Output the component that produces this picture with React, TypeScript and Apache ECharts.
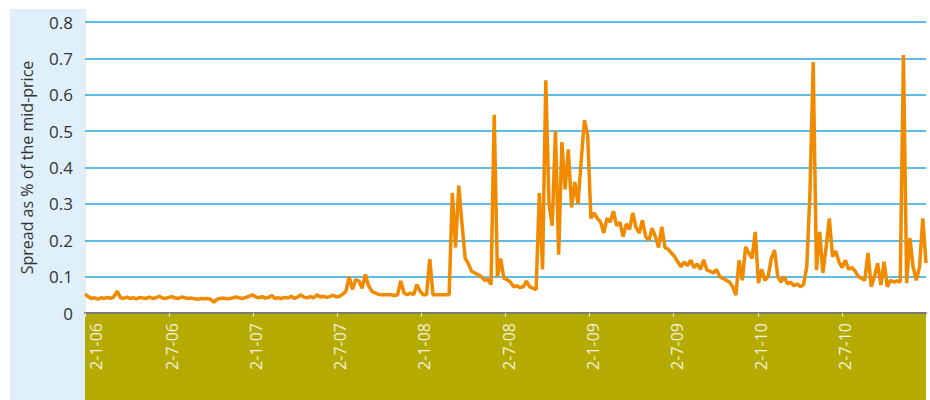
import React, { useEffect, useRef } from "react";
import * as echarts from "echarts";

// Half-year tick labels (date axis, first tick = 2 Jan 2006)
const tickLabels = ["2-1-06", "2-7-06", "2-1-07", "2-7-07", "2-1-08", "2-7-08", "2-1-09", "2-7-09", "2-1-10", "2-7-10"];
const yTicks = [0, 0.1, 0.2, 0.3, 0.4, 0.5, 0.6, 0.7, 0.8];

// Weekly spread (% of mid-price), starting 2 Jan 2006
const spread2006 = [
  0.052, 0.045, 0.040, 0.042, 0.038, 0.042, 0.040, 0.043, 0.040, 0.045,
  0.060, 0.042, 0.040, 0.044, 0.040, 0.042, 0.039, 0.043, 0.041, 0.040,
  0.044, 0.040, 0.042, 0.046, 0.041, 0.040, 0.043, 0.045, 0.041, 0.040,
  0.044, 0.042, 0.040, 0.041, 0.039, 0.038, 0.040, 0.039, 0.040, 0.038,
  0.030, 0.038, 0.040, 0.041, 0.039, 0.040, 0.042, 0.044, 0.041, 0.040,
  0.043, 0.046,
];
const spread2007 = [
  0.050, 0.044, 0.042, 0.045, 0.041, 0.043, 0.048, 0.040, 0.042, 0.040,
  0.043, 0.041, 0.046, 0.040, 0.044, 0.050, 0.043, 0.042, 0.045, 0.042,
  0.050, 0.044, 0.046, 0.043, 0.045, 0.049, 0.044, 0.046, 0.052, 0.060,
  0.100, 0.065, 0.092, 0.088, 0.068, 0.106, 0.075, 0.060, 0.055, 0.052,
  0.050, 0.050, 0.050, 0.050, 0.048, 0.050, 0.088, 0.055, 0.050, 0.055,
  0.050, 0.078,
];
const spread2008 = [
  0.060, 0.050, 0.050, 0.148, 0.050, 0.050, 0.050, 0.050, 0.050, 0.050,
  0.330, 0.180, 0.350, 0.245, 0.150, 0.135, 0.115, 0.110, 0.105, 0.100,
  0.090, 0.092, 0.078, 0.545, 0.100, 0.150, 0.095, 0.092, 0.085, 0.072,
  0.075, 0.070, 0.072, 0.088, 0.072, 0.068, 0.064, 0.330, 0.120, 0.640,
  0.300, 0.240, 0.500, 0.160, 0.470, 0.340, 0.450, 0.290, 0.360, 0.300,
  0.420, 0.530,
];
const spread2009 = [
  0.490, 0.260, 0.275, 0.260, 0.250, 0.220, 0.260, 0.250, 0.280, 0.240,
  0.250, 0.210, 0.245, 0.230, 0.275, 0.235, 0.220, 0.255, 0.210, 0.200,
  0.233, 0.210, 0.180, 0.237, 0.180, 0.175, 0.165, 0.155, 0.140, 0.127,
  0.140, 0.130, 0.145, 0.125, 0.135, 0.120, 0.146, 0.118, 0.115, 0.110,
  0.120, 0.100, 0.095, 0.090, 0.085, 0.072, 0.049, 0.145, 0.090, 0.182,
  0.165, 0.150,
];
const spread2010 = [
  0.223, 0.082, 0.120, 0.090, 0.100, 0.150, 0.173, 0.100, 0.085, 0.100,
  0.080, 0.085, 0.075, 0.080, 0.072, 0.078, 0.127, 0.333, 0.690, 0.118,
  0.223, 0.110, 0.180, 0.260, 0.155, 0.170, 0.140, 0.125, 0.145, 0.120,
  0.125, 0.115, 0.100, 0.095, 0.090, 0.165, 0.072, 0.100, 0.137, 0.077,
  0.141, 0.072, 0.090, 0.085, 0.088, 0.085, 0.709, 0.082, 0.206, 0.127,
  0.090, 0.127, 0.260, 0.137,
];

const weekly = [...spread2006, ...spread2007, ...spread2008, ...spread2009, ...spread2010];
const DAYS_PER_WEEK = 7;
const HALF_YEAR = 182.7;

export default function App() {
  const ref = useRef<HTMLDivElement>(null);
  useEffect(() => {
    if (!ref.current) return;
    const chart = echarts.init(ref.current, undefined, { renderer: "svg" });
    const data = weekly.map((v, i) => [i * DAYS_PER_WEEK, v]);
    chart.setOption({
      animation: false,
      backgroundColor: "#ffffff",
      graphic: [
        { type: "rect", z: -10, silent: true, shape: { x: 10, y: 9, width: 76, height: 391 }, style: { fill: "#dff0fb" } },
        { type: "rect", z: -10, silent: true, shape: { x: 85, y: 313, width: 841, height: 87 }, style: { fill: "#b5aa00" } },
      ],
      grid: { left: 85, right: 4, top: 22, bottom: 87 },
      xAxis: {
        type: "value",
        min: 0,
        max: HALF_YEAR * 10,
        interval: HALF_YEAR,
        splitLine: { show: false },
        axisLine: { show: true, onZero: false, lineStyle: { color: "#7a7a7a", width: 2 } },
        axisTick: { show: true, length: 4, lineStyle: { color: "#f2efd6", width: 1 } },
        axisLabel: {
          rotate: 90,
          margin: 10,
          color: "#f4f1dc",
          fontSize: 16,
          fontFamily: "Open Sans",
          showMaxLabel: false,
          formatter: (v: number) => {
            const i = Math.round(v / HALF_YEAR);
            const s = tickLabels[i] ?? "";
            return i === 0 ? `{first|${s}}` : `{rest|${s}}`;
          },
          rich: {
            first: { color: "#f4f1dc", fontSize: 16, fontFamily: "Open Sans", padding: [22, 0, 0, 0] },
            rest: { color: "#f4f1dc", fontSize: 16, fontFamily: "Open Sans", padding: [6, 0, 0, 0] },
          },
        },
      },
      yAxis: {
        type: "value",
        min: 0,
        max: 0.8,
        interval: 0.1,
        name: "Spread as % of the mid-price",
        nameLocation: "middle",
        nameGap: 50,
        nameTextStyle: { fontSize: 16, color: "#333333", fontFamily: "Open Sans" },
        axisLine: { show: false },
        axisTick: { show: false },
        axisLabel: {
          margin: 12,
          fontSize: 17,
          color: "#333333",
          fontFamily: "Open Sans",
          formatter: (v: number) => {
            const t = yTicks.find((y) => Math.abs(y - v) < 1e-6);
            return t === 0 ? "0" : (t ?? v).toFixed(1);
          },
        },
        splitLine: { show: true, lineStyle: { color: "#2aa6e0", width: 1.5 } },
      },
      series: [
        {
          type: "line",
          data,
          showSymbol: false,
          lineStyle: { color: "#f28a00", width: 3.5 },
          itemStyle: { color: "#f28a00" },
        },
      ],
    });
    return () => chart.dispose();
  }, []);
  return <div ref={ref} style={{ width: 930, height: 400, position: "absolute", left: 0, top: 0 }} />;
}
